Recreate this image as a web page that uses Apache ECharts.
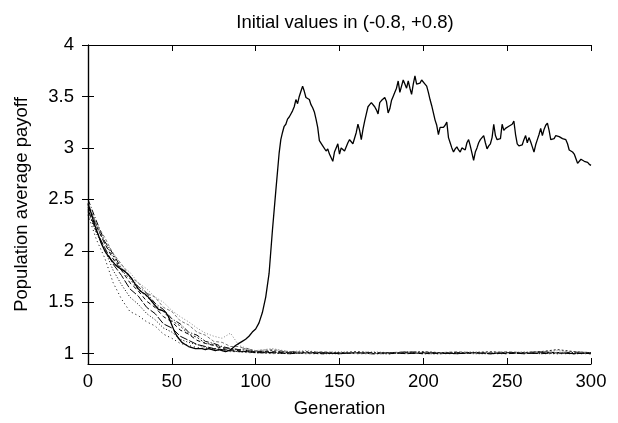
<!DOCTYPE html>
<html>
<head>
<meta charset="utf-8">
<script src="https://cdn.jsdelivr.net/npm/echarts@6/dist/echarts.min.js"></script>
<style>html,body{margin:0;padding:0;background:#fff;}#c{width:618px;height:423px;}</style>
</head>
<body>
<div id="c"></div>
<script>
const titleText = 'Initial values in (-0.8, +0.8)';
const xName = 'Generation';
const yName = 'Population average payoff';
const yTicks = [1, 1.5, 2, 2.5, 3, 3.5, 4];
const xTicks = [0, 50, 100, 150, 200, 250, 300];

const mainGen = [0,2,4,6,8,10,12,14,16,18,20,22,24,26,28,30,32,34,36,38,40,42,44,46,48,50,52,54,56,58,60,62,64,66,68,70,72,74,76,78,80,82,84,86,88,90,92,94,96,98,100,102,104,106,108,110,112,114,
115,116,117,118,119,120,121,122,123,124,125,126,127,128,129,130,131,132,133,134,135,136,137,138,139,140,141,142,143,144,145,146,147,148,149,150,
151,152,153,154,155,156,157,158,159,160,161,162,163,164,165,166,167,168,169,170,171,172,173,174,175,176,177,178,179,180,181,182,183,184,185,186,187,188,189,190,
191,192,193,194,195,196,197,198,199,200,201,202,203,204,205,206,207,208,209,210,211,212,213,214,215,216,217,218,219,220,221,222,223,224,225,226,227,228,229,230,
231,232,233,234,235,236,237,238,239,240,241,242,243,244,245,246,247,248,249,250,251,252,253,254,255,256,257,258,259,260,261,262,263,264,265,266,267,268,269,270,
271,272,273,274,275,276,277,278,279,280,281,282,283,284,285,286,287,288,289,290,291,292,293,294,295,296,297,298,299,300];
const mainVal = [2.46,2.36,2.25,2.16,2.07,2.00,1.95,1.91,1.87,1.84,1.82,1.80,1.77,1.73,1.68,1.63,1.60,1.58,1.55,1.51,1.47,1.43,1.42,1.41,1.36,1.28,1.20,1.15,1.11,1.09,1.07,1.06,1.05,1.05,1.05,1.04,1.05,1.04,1.03,1.04,1.03,1.02,1.03,1.05,1.08,1.10,1.12,1.14,1.17,1.21,1.24,1.30,1.40,1.55,1.78,2.20,2.58,2.95,
3.08,3.15,3.21,3.23,3.28,3.30,3.33,3.36,3.40,3.47,3.43,3.50,3.55,3.60,3.55,3.49,3.50,3.47,3.42,3.39,3.35,3.28,3.20,3.07,3.06,3.02,3.03,2.97,2.99,2.94,2.95,2.87,2.96,3.00,3.04,2.94,
3.00,3.01,2.97,2.98,3.05,3.08,3.06,3.04,3.05,3.15,3.23,3.17,3.08,3.18,3.26,3.33,3.40,3.42,3.44,3.45,3.40,3.37,3.33,3.44,3.46,3.47,3.49,3.45,3.34,3.38,3.46,3.50,3.54,3.58,3.65,3.54,3.60,3.66,3.62,3.58,
3.65,3.58,3.52,3.62,3.70,3.62,3.63,3.63,3.66,3.65,3.62,3.60,3.54,3.47,3.41,3.34,3.27,3.22,3.13,3.20,3.19,3.20,3.22,3.25,3.10,3.05,3.00,2.96,2.99,3.01,2.98,2.96,3.00,3.01,2.98,3.05,3.08,3.02,2.95,2.88,
2.96,3.00,3.05,3.08,3.10,3.12,3.05,2.99,3.02,3.04,3.10,3.23,3.12,3.08,3.07,3.09,3.23,3.17,3.19,3.20,3.21,3.22,3.23,3.26,3.13,3.04,3.02,3.01,3.03,3.08,3.12,3.05,3.10,3.06,3.01,2.96,3.03,3.08,3.13,3.19,
3.12,3.18,3.22,3.24,3.17,3.08,3.08,3.09,3.12,3.12,3.11,3.10,3.09,3.09,3.08,3.04,2.98,2.97,2.96,2.94,2.94,2.85,2.86,2.89,2.88,2.87,2.87,2.86,2.84,2.83];

const runGen = [0,5,10,15,20,25,30,35,40,45,50,55,60,65,70,75,80,85,90,95,100,110,120,130,140,150,160,170,180,190,200,210,220,230,240,250,260,270,280,290,300];
const runA = [2.42,2.24,2.07,1.92,1.81,1.69,1.61,1.51,1.45,1.36,1.31,1.23,1.19,1.13,1.10,1.08,1.05,1.04,1.03,1.02,1.02,1.02,1.01,1.01,1.00,1.01,1.01,1.00,1.01,1.01,1.00,1.01,1.00,1.01,1.01,1.00,1.01,1.02,1.01,1.00,1.01];
const runB = [2.38,2.17,2.01,1.81,1.67,1.55,1.48,1.39,1.33,1.25,1.21,1.14,1.11,1.09,1.06,1.05,1.04,1.03,1.02,1.02,1.01,1.01,1.00,1.01,1.00,1.00,1.01,1.00,1.00,1.01,1.00,1.00,1.01,1.00,1.00,1.01,1.00,1.01,1.00,1.01,1.00];
const runC = [2.45,2.27,2.09,1.98,1.86,1.79,1.69,1.63,1.55,1.50,1.42,1.36,1.31,1.25,1.20,1.17,1.15,1.20,1.08,1.05,1.03,1.05,1.02,1.03,1.01,1.02,1.01,1.02,1.01,1.01,1.02,1.01,1.01,1.02,1.01,1.01,1.02,1.01,1.03,1.01,1.01];
const runD = [2.50,2.29,2.09,1.97,1.83,1.75,1.65,1.59,1.49,1.43,1.34,1.29,1.21,1.18,1.12,1.10,1.07,1.05,1.04,1.03,1.02,1.01,1.02,1.01,1.01,1.00,1.01,1.01,1.00,1.02,1.01,1.00,1.01,1.01,1.00,1.01,1.01,1.00,1.01,1.01,1.00];
const runE = [2.35,2.11,1.93,1.69,1.53,1.41,1.37,1.31,1.27,1.19,1.15,1.10,1.08,1.06,1.05,1.04,1.03,1.02,1.02,1.01,1.01,1.00,1.01,1.00,1.00,1.01,1.00,1.00,1.00,1.01,1.00,1.00,1.00,1.01,1.00,1.00,1.01,1.00,1.00,1.00,1.00];
const runF = [2.40,2.19,2.03,1.87,1.76,1.63,1.56,1.45,1.39,1.29,1.25,1.17,1.13,1.09,1.07,1.05,1.04,1.03,1.02,1.02,1.01,1.01,1.00,1.01,1.01,1.00,1.01,1.00,1.01,1.00,1.01,1.01,1.00,1.01,1.00,1.01,1.00,1.01,1.01,1.00,1.01];
const runG = [2.46,2.26,2.13,1.97,1.87,1.75,1.69,1.59,1.55,1.45,1.41,1.32,1.28,1.21,1.18,1.12,1.11,1.07,1.07,1.04,1.03,1.04,1.02,1.01,1.02,1.01,1.01,1.00,1.01,1.02,1.01,1.01,1.02,1.01,1.01,1.02,1.01,1.02,1.01,1.02,1.01];
const runH = [2.44,2.25,2.07,1.95,1.81,1.73,1.62,1.56,1.47,1.41,1.32,1.27,1.19,1.16,1.10,1.09,1.06,1.05,1.04,1.05,1.02,1.03,1.01,1.02,1.01,1.01,1.02,1.01,1.01,1.01,1.02,1.01,1.01,1.01,1.02,1.01,1.01,1.02,1.04,1.02,1.01];

const runs = [
  {v: runA, c: '#000', t: [4, 3]},
  {v: runB, c: '#000', t: [1, 2]},
  {v: runC, c: '#888', t: [1, 2]},
  {v: runD, c: '#000', t: [6, 2, 1, 2]},
  {v: runE, c: '#000', t: [1, 3]},
  {v: runF, c: '#000', t: [8, 2]},
  {v: runG, c: '#777', t: [3, 2]},
  {v: runH, c: '#222', t: [2, 2]}
];

const FONT = 'Liberation Sans';
const FS = 18.5;
const series = runs.map(r => ({
  type: 'line', symbol: 'none', animation: false,
  data: runGen.map((g, i) => [g, r.v[i]]),
  lineStyle: {color: r.c, width: 1, type: r.t}
}));
series.push({
  type: 'line', symbol: 'none', animation: false,
  data: mainGen.map((g, i) => [g, mainVal[i]]),
  lineStyle: {color: '#000', width: 1.3}
});

const chart = echarts.init(document.getElementById('c'), null, {renderer: 'canvas'});
const axisLine = {show: true, lineStyle: {color: '#000', width: 1.2}};
chart.setOption({
  backgroundColor: '#fff',
  animation: false,
  title: {text: titleText, left: 340, top: 8, textAlign: 'center',
    textStyle: {fontFamily: FONT, fontSize: FS, fontWeight: 'normal', color: '#000'}},
  grid: {left: 88, right: 27, top: 45, bottom: 57},
  xAxis: [{
    type: 'value', min: 0, max: 300, interval: 50,
    name: xName, nameLocation: 'middle', nameGap: 35,
    nameTextStyle: {fontFamily: FONT, fontSize: FS, color: '#000'},
    axisLine, axisTick: {show: true, inside: true, length: 6, lineStyle: {color: '#000'}},
    axisLabel: {fontFamily: FONT, fontSize: FS, color: '#000', margin: 8},
    splitLine: {show: false}
  }, {
    type: 'value', position: 'top', min: 0, max: 300, interval: 50,
    axisLine, axisTick: {show: true, inside: true, length: 6, lineStyle: {color: '#000'}},
    axisLabel: {show: false}, splitLine: {show: false}
  }],
  yAxis: [{
    type: 'value', min: 0.9, max: 4,
    name: yName, nameLocation: 'middle', nameGap: 57,
    nameTextStyle: {fontFamily: FONT, fontSize: FS, color: '#000'},
    axisLine,
    axisTick: {show: true, inside: true, length: 6, lineStyle: {color: '#000'}, customValues: yTicks},
    axisLabel: {fontFamily: FONT, fontSize: FS, color: '#000', margin: 14, customValues: yTicks},
    splitLine: {show: false}
  }, {
    type: 'value', position: 'right', min: 0.9, max: 4,
    axisLine,
    axisTick: {show: true, inside: true, length: 6, lineStyle: {color: '#000'}, customValues: yTicks},
    axisLabel: {show: false, customValues: yTicks}, splitLine: {show: false}
  }],
  series: series
});
</script>
</body>
</html>
